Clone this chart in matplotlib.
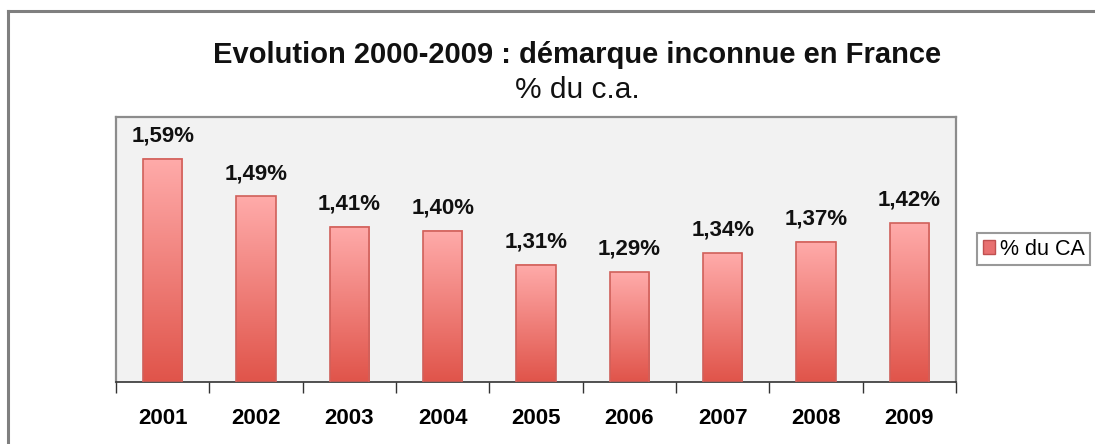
import matplotlib
matplotlib.use("Agg")
import matplotlib.pyplot as plt
import numpy as np
from matplotlib.colors import LinearSegmentedColormap
from matplotlib.lines import Line2D

plt.rcParams['font.family'] = ['Liberation Sans', 'DejaVu Sans']

# data
years = ['2001', '2002', '2003', '2004', '2005', '2006', '2007', '2008', '2009']
values = [1.59, 1.49, 1.41, 1.40, 1.31, 1.29, 1.34, 1.37, 1.42]
labels = ['1,59%', '1,49%', '1,41%', '1,40%', '1,31%', '1,29%', '1,34%', '1,37%', '1,42%']

fig = plt.figure(figsize=(10.95, 4.44), dpi=100)
ax = fig.add_axes([116 / 1095, 62 / 444, 840 / 1095, 265 / 444])
ax.set_facecolor('#f2f2f2')

x = np.arange(len(years))
w = 0.42
ymin, ymax = 1.0, 1.7

cmap = LinearSegmentedColormap.from_list('grad', ['#e0544a', '#ffabaa'])
grad = np.linspace(0, 1, 256).reshape(-1, 1)

bars = ax.bar(x, np.array(values) - ymin, w, bottom=ymin, color='none',
              edgecolor='#d0605a', linewidth=1.2, zorder=3)
for b in bars:
    x0, y0 = b.get_x(), b.get_y()
    ax.imshow(grad, extent=[x0, x0 + b.get_width(), y0, y0 + b.get_height()],
              origin='lower', cmap=cmap, aspect='auto', zorder=2)

for xi, v, lab in zip(x, values, labels):
    ax.annotate(lab, (xi, v), xytext=(0, 9), textcoords='offset points',
                ha='center', va='bottom', fontsize=16, fontweight='bold', color='#111111')

ax.set_xlim(-0.5, len(years) - 0.5)
ax.set_ylim(ymin, ymax)
ax.set_yticks([])
ax.set_xticks(x)
ax.set_xticklabels(years, fontsize=16, fontweight='bold')
ax.tick_params(axis='x', which='major', length=0, pad=19)
ax.set_xticks(np.arange(len(years) + 1) - 0.5, minor=True)
ax.tick_params(axis='x', which='minor', length=8, width=1, color='#333333')

for s in ['top', 'right', 'left']:
    ax.spines[s].set_color('#8c8c8c')
    ax.spines[s].set_linewidth(1.6)
ax.spines['bottom'].set_color('#333333')
ax.spines['bottom'].set_linewidth(1.2)

# legend
handle = plt.Rectangle((0, 0), 1, 1, facecolor='#e87070', edgecolor='#c05050')
leg = fig.legend([handle], ['% du CA'], loc='center right',
                 bbox_to_anchor=(1090 / 1095, 1 - 249 / 444), fontsize=15.5,
                 frameon=True, fancybox=False, handlelength=0.6, handleheight=0.6,
                 handletextpad=0.2, borderpad=0.25, borderaxespad=0)
leg.get_frame().set_edgecolor('#808080')
leg.get_frame().set_linewidth(1.5)

# titles
fig.text(577 / 1095, 1 - 55 / 444, 'Evolution 2000-2009 : démarque inconnue en France',
         ha='center', va='center', fontsize=21, fontweight='bold', color='#111111')
fig.text(577 / 1095, 1 - 90 / 444, '% du c.a.', ha='center', va='center',
         fontsize=21.5, color='#111111')

# outer frame (top and left)
fig.add_artist(Line2D([8 / 1095, 8 / 1095], [0, 1 - 11 / 444], color='#7f7f7f', lw=2.2,
                      transform=fig.transFigure))
fig.add_artist(Line2D([8 / 1095, 1], [1 - 11 / 444, 1 - 11 / 444], color='#7f7f7f', lw=2.2,
                      transform=fig.transFigure))

fig.savefig('out.png', dpi=100)
